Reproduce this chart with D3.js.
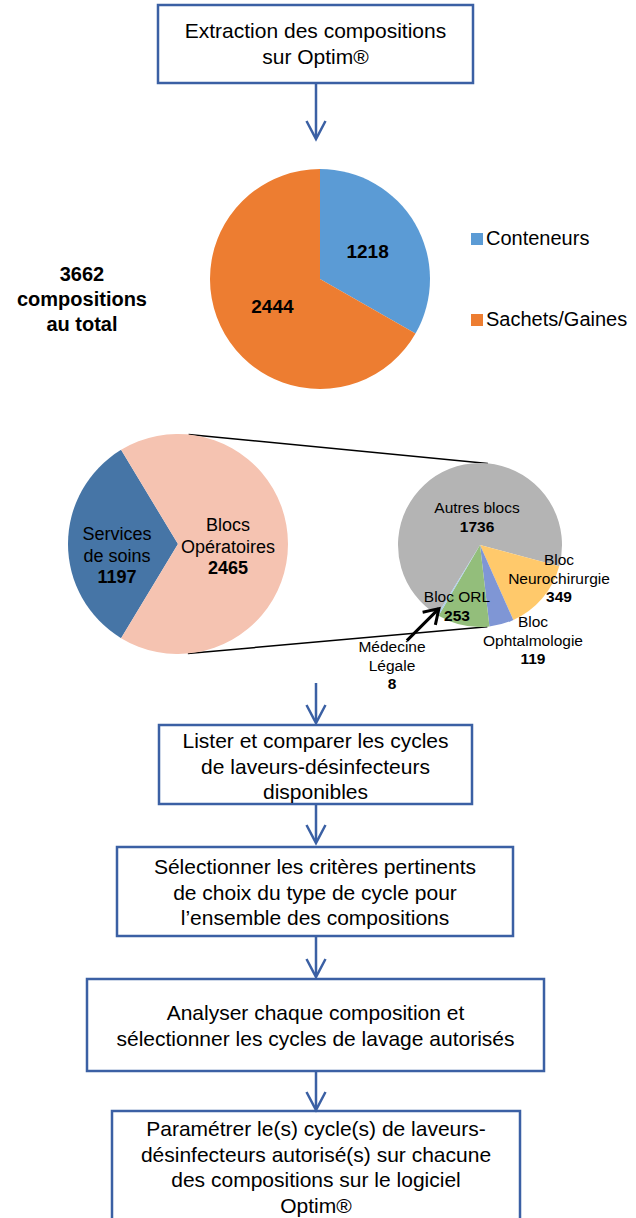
<!DOCTYPE html>
<html>
<head>
<meta charset="utf-8">
<script src="https://cdn.jsdelivr.net/npm/d3@7"></script>
<style>
  body { margin: 0; background: #fff; }
  svg { display: block; font-family: "Liberation Sans", Arial, sans-serif; }
</style>
</head>
<body>
<div id="chart"></div>
<script>
// ---------------- data ----------------
const typeCats = ["Conteneurs", "Sachets/Gaines"];
const typeVals = [1218, 2444];

const serviceCats = ["Services de soins", "Blocs Opératoires"];
const serviceVals = [1197, 2465];

const blocCats = ["Autres blocs", "Bloc Neurochirurgie", "Bloc Ophtalmologie", "Bloc ORL", "Médecine Légale"];
const blocVals = [1736, 349, 119, 253, 8];

const steps = [
  ["Extraction des compositions", "sur Optim®"],
  ["Lister et comparer les cycles", "de laveurs-désinfecteurs", "disponibles"],
  ["Sélectionner les critères pertinents", "de choix du type de cycle pour", "l’ensemble des compositions"],
  ["Analyser chaque composition et", "sélectionner les cycles de lavage autorisés"],
  ["Paramétrer le(s) cycle(s) de laveurs-", "désinfecteurs autorisé(s) sur chacune", "des compositions sur le logiciel", "Optim®"]
];

// ---------------- layout ----------------
const W = 636, H = 1218;
const flowBlue = "#3B60A4";
const typeColors = ["#5B9BD5", "#ED7D31"];
const serviceColors = ["#4675A6", "#F5C3B1"];
const blocColors = ["#B4B4B4", "#FFC96B", "#7F96D5", "#93BE7B", "#A9CDEB"];

const boxes = [
  {x0: 158, x1: 473, y0: 5,    y1: 83,   base: 38},
  {x0: 159, x1: 472, y0: 725,  y1: 804,  base: 748},
  {x0: 117, x1: 513, y0: 847,  y1: 936,  base: 874},
  {x0: 87,  x1: 544, y0: 979,  y1: 1071, base: 1020},
  {x0: 112, x1: 520, y0: 1111, y1: 1226, base: 1136}
];
const arrows = [[83, 139], [683, 723], [804, 843], [936, 977], [1071, 1110]];
const arrowX = 316;

const svg = d3.select("#chart").append("svg")
  .attr("width", W).attr("height", H);
svg.append("rect").attr("width", W).attr("height", H).attr("fill", "#fff");

// ---------------- flow boxes ----------------
const box = svg.append("g").selectAll("g")
  .data(boxes)
  .enter().append("g");

box.append("rect")
  .attr("x", d => d.x0).attr("y", d => d.y0)
  .attr("width", d => d.x1 - d.x0).attr("height", d => d.y1 - d.y0)
  .attr("fill", "#fff")
  .attr("stroke", flowBlue)
  .attr("stroke-width", 2.5);

box.each(function(d, i) {
  const t = d3.select(this).append("text")
    .attr("text-anchor", "middle")
    .style("font-size", "21px")
    .attr("fill", "#000");
  steps[i].forEach((line, j) => {
    t.append("tspan")
      .attr("x", (d.x0 + d.x1) / 2)
      .attr("y", d.base + j * 25.5)
      .text(line);
  });
});

const arr = svg.append("g")
  .attr("fill", "none")
  .attr("stroke", flowBlue)
  .attr("stroke-width", 2.5)
  .selectAll("g")
  .data(arrows)
  .enter().append("g");
arr.append("line")
  .attr("x1", arrowX).attr("x2", arrowX)
  .attr("y1", d => d[0]).attr("y2", d => d[1] - 1);
arr.append("path")
  .attr("d", d => `M${arrowX - 9.5},${d[1] - 18} L${arrowX},${d[1]} L${arrowX + 9.5},${d[1] - 18}`);

// ---------------- pie 1 : type ----------------
const p1 = {cx: 320, cy: 279, r: 110};
const pie1 = d3.pie().sort(null)(typeVals);
const arc1 = d3.arc().innerRadius(0).outerRadius(p1.r);
const g1 = svg.append("g").attr("transform", `translate(${p1.cx},${p1.cy})`);
g1.selectAll("path")
  .data(pie1)
  .enter().append("path")
  .attr("d", arc1)
  .attr("fill", (d, i) => typeColors[i]);
g1.selectAll("text")
  .data(pie1)
  .enter().append("text")
  .attr("transform", d => `translate(${arc1.centroid(d)})`)
  .attr("dy", "0.35em")
  .attr("text-anchor", "middle")
  .style("font-size", "19px")
  .style("font-weight", "bold")
  .text(d => d.data);

// legend
const legend = svg.append("g").selectAll("g")
  .data(typeCats)
  .enter().append("g")
  .attr("transform", (d, i) => `translate(471,${233 + i * 81})`);
legend.append("rect")
  .attr("width", 12).attr("height", 12)
  .attr("fill", (d, i) => typeColors[i]);
legend.append("text")
  .attr("x", 15).attr("y", 12)
  .style("font-size", "20px")
  .text(d => d);

// total
const total = d3.sum(typeVals);
svg.append("text")
  .attr("text-anchor", "middle")
  .style("font-size", "20px")
  .style("font-weight", "bold")
  .selectAll("tspan")
  .data([String(total), "compositions", "au total"])
  .enter().append("tspan")
  .attr("x", 82)
  .attr("y", (d, i) => 281 + i * 25)
  .text(d => d);

// ---------------- pie 2 : services + blocs ----------------
const p2 = {cx: 178, cy: 544, r: 110};
const p3 = {cx: 480, cy: 545, r: 82};

// connector lines = external tangents of the two circles
const dx = p3.cx - p2.cx, dy = p3.cy - p2.cy;
const D = Math.hypot(dx, dy), phi = Math.atan2(dy, dx);
const alpha = Math.acos((p2.r - p3.r) / D);
[-1, 1].forEach(s => {
  const a = phi + s * alpha;
  svg.append("line")
    .attr("x1", p2.cx + p2.r * Math.cos(a)).attr("y1", p2.cy + p2.r * Math.sin(a))
    .attr("x2", p3.cx + p3.r * Math.cos(a)).attr("y2", p3.cy + p3.r * Math.sin(a))
    .attr("stroke", "#000").attr("stroke-width", 1.5);
});

const sTotal = d3.sum(serviceVals);
const s0 = 1.5 * Math.PI - Math.PI * serviceVals[0] / sTotal;
const pie2 = d3.pie().sort(null).startAngle(s0).endAngle(s0 + 2 * Math.PI)(serviceVals);
const arc2 = d3.arc().innerRadius(0).outerRadius(p2.r);
const g2 = svg.append("g").attr("transform", `translate(${p2.cx},${p2.cy})`);
g2.selectAll("path")
  .data(pie2)
  .enter().append("path")
  .attr("d", arc2)
  .attr("fill", (d, i) => serviceColors[i]);

const serviceLines = [["Services", "de soins"], ["Blocs", "Opératoires"]];
const serviceShift = [[-6, -4], [-5, -13]];
pie2.forEach((d, i) => {
  const c = arc2.centroid(d);
  const t = g2.append("text")
    .attr("text-anchor", "middle")
    .style("font-size", "18px");
  const lines = serviceLines[i].concat([String(d.data)]);
  lines.forEach((l, j) => {
    t.append("tspan")
      .attr("x", c[0] + serviceShift[i][0])
      .attr("y", c[1] + serviceShift[i][1] + j * 21.5)
      .style("font-weight", j === lines.length - 1 ? "bold" : "normal")
      .text(l);
  });
});

// secondary pie
const b0 = 211.5 * Math.PI / 180;
const pie3 = d3.pie().sort(null).startAngle(b0).endAngle(b0 + 2 * Math.PI)(blocVals);
const arc3 = d3.arc().innerRadius(0).outerRadius(p3.r);
const g3 = svg.append("g").attr("transform", `translate(${p3.cx},${p3.cy})`);
g3.selectAll("path")
  .data(pie3)
  .enter().append("path")
  .attr("d", arc3)
  .attr("fill", (d, i) => blocColors[i]);

const blocLines = [["Autres blocs"], ["Bloc", "Neurochirurgie"], ["Bloc", "Ophtalmologie"], ["Bloc ORL"], ["Médecine", "Légale"]];
const blocAnchor = [[-3, -32], [79, 20], [53, 82], [-23, 57], [-88, 107]];
pie3.forEach((d, i) => {
  const t = g3.append("text")
    .attr("text-anchor", "middle")
    .style("font-size", "15.5px");
  const lines = blocLines[i].concat([String(d.data)]);
  lines.forEach((l, j) => {
    t.append("tspan")
      .attr("x", blocAnchor[i][0])
      .attr("y", blocAnchor[i][1] + j * 18.5)
      .style("font-weight", j === lines.length - 1 ? "bold" : "normal")
      .text(l);
  });
});

// pointer to the tiny "Médecine Légale" slice
const ml = pie3[4];
const mid = (ml.startAngle + ml.endAngle) / 2;
const tip = [Math.sin(mid) * (p3.r - 2), -Math.cos(mid) * (p3.r - 2) - 5];
const tail = [tip[0] - 32, tip[1] + 32];
const ux = (tip[0] - tail[0]) / Math.hypot(32, 32), uy = (tip[1] - tail[1]) / Math.hypot(32, 32);
g3.append("line")
  .attr("x1", tail[0]).attr("y1", tail[1])
  .attr("x2", tip[0]).attr("y2", tip[1])
  .attr("stroke", "#000").attr("stroke-width", 3);
g3.append("path")
  .attr("d", `M${tip[0] - ux * 14 - uy * 9},${tip[1] - uy * 14 + ux * 9} L${tip[0]},${tip[1]} L${tip[0] - ux * 14 + uy * 9},${tip[1] - uy * 14 - ux * 9}`)
  .attr("fill", "none")
  .attr("stroke", "#000").attr("stroke-width", 3);
</script>
</body>
</html>
